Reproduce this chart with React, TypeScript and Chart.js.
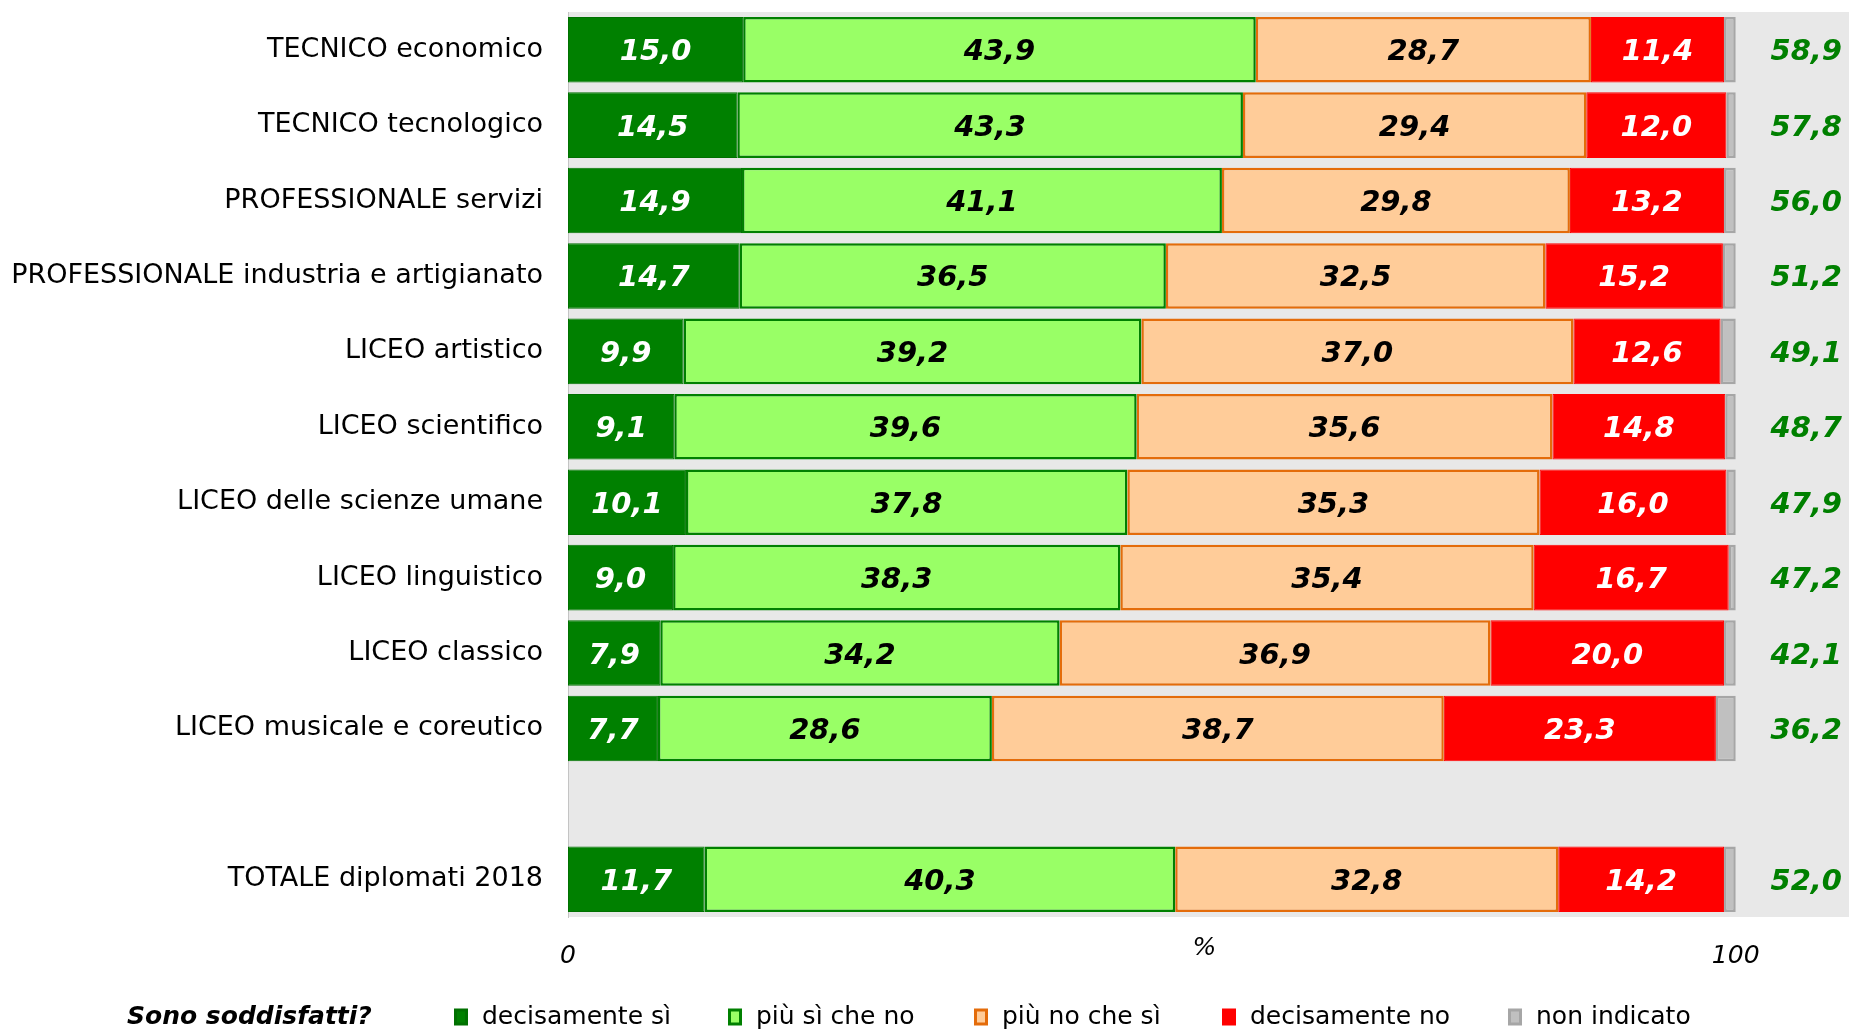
import { useEffect, useRef } from 'react';
import { Chart, registerables } from 'chart.js';

Chart.register(...registerables);

const categories = [
  'TECNICO economico',
  'TECNICO tecnologico',
  'PROFESSIONALE servizi',
  'PROFESSIONALE industria e artigianato',
  'LICEO artistico',
  'LICEO scientifico',
  'LICEO delle scienze umane',
  'LICEO linguistico',
  'LICEO classico',
  'LICEO musicale e coreutico',
  '',
  'TOTALE diplomati 2018',
];
const decisamenteSi = [15.0, 14.5, 14.9, 14.7, 9.9, 9.1, 10.1, 9.0, 7.9, 7.7, null, 11.7];
const piuSiCheNo = [43.9, 43.3, 41.1, 36.5, 39.2, 39.6, 37.8, 38.3, 34.2, 28.6, null, 40.3];
const piuNoCheSi = [28.7, 29.4, 29.8, 32.5, 37.0, 35.6, 35.3, 35.4, 36.9, 38.7, null, 32.8];
const decisamenteNo = [11.4, 12.0, 13.2, 15.2, 12.6, 14.8, 16.0, 16.7, 20.0, 23.3, null, 14.2];
const nonIndicato = [1.0, 0.8, 1.0, 1.1, 1.3, 0.9, 0.8, 0.6, 1.0, 1.7, null, 1.0];
const soddisfatti = [58.9, 57.8, 56.0, 51.2, 49.1, 48.7, 47.9, 47.2, 42.1, 36.2, null, 52.0];
const xTicks = [0, 100];
const seriesNames = ['decisamente sì', 'più sì che no', 'più no che sì', 'decisamente no', 'non indicato'];
const legendTitle = 'Sono soddisfatti?';
const axisUnit = '%';

const FONT = '"DejaVu Sans", Verdana, sans-serif';
const fmt = (v: number) => v.toFixed(1).replace('.', ',');

const labelColors = ['#ffffff', '#000000', '#000000', '#ffffff'];

export default function App() {
  const ref = useRef<HTMLCanvasElement | null>(null);

  useEffect(() => {
    if (!ref.current) return;

    const bgPlugin = {
      id: 'bg',
      beforeDraw(chart: any) {
        const { ctx, chartArea } = chart;
        ctx.save();
        ctx.fillStyle = '#e8e8e8';
        ctx.fillRect(chartArea.left, chartArea.top, chartArea.right - chartArea.left, chartArea.bottom - chartArea.top);
        ctx.restore();
      },
    };

    const labelPlugin = {
      id: 'labels',
      afterDatasetsDraw(chart: any) {
        const { ctx, chartArea } = chart;
        ctx.save();
        ctx.textBaseline = 'middle';
        ctx.font = `italic bold 29px ${FONT}`;
        for (let d = 0; d < 4; d++) {
          const meta = chart.getDatasetMeta(d);
          const data = chart.data.datasets[d].data;
          meta.data.forEach((el: any, i: number) => {
            const v = data[i];
            if (v == null) return;
            ctx.fillStyle = labelColors[d];
            ctx.textAlign = 'center';
            ctx.fillText(fmt(v), (el.x + el.base) / 2, el.y + 3);
          });
        }
        const meta0 = chart.getDatasetMeta(0);
        meta0.data.forEach((el: any, i: number) => {
          const v = soddisfatti[i];
          if (v == null) return;
          ctx.fillStyle = '#008000';
          ctx.textAlign = 'right';
          ctx.fillText(fmt(v), chartArea.right - 7, el.y + 3);
        });
        // axis unit
        const xs = chart.scales.x;
        ctx.fillStyle = '#000000';
        ctx.textAlign = 'center';
        ctx.font = `italic 25px ${FONT}`;
        ctx.fillText(axisUnit, xs.getPixelForValue(54.5), chartArea.bottom + 31);
        ctx.restore();
      },
    };

    const legendPlugin = {
      id: 'customLegend',
      afterDraw(chart: any) {
        const { ctx } = chart;
        const y = 1017;
        ctx.save();
        ctx.textBaseline = 'middle';
        ctx.textAlign = 'left';
        ctx.fillStyle = '#000000';
        ctx.font = `italic bold 25px ${FONT}`;
        ctx.fillText(legendTitle, 127, y);
        ctx.font = `25px ${FONT}`;
        const boxX = [454, 728, 974, 1222, 1508];
        chart.data.datasets.forEach((ds: any, i: number) => {
          const bx = boxX[i];
          const bw = 14;
          const bh = 17;
          ctx.fillStyle = ds.borderColor;
          ctx.fillRect(bx, y - bh / 2, bw, bh);
          ctx.fillStyle = ds.backgroundColor;
          ctx.fillRect(bx + 3, y - bh / 2 + 3, bw - 6, bh - 6);
          ctx.fillStyle = '#000000';
          ctx.fillText(ds.label, bx + 28, y);
        });
        ctx.restore();
      },
    };

    const mk = (label: string, data: any[], bg: string, border: string, bw: number) => ({
      label,
      data,
      backgroundColor: bg,
      borderColor: border,
      borderWidth: bw,
      borderSkipped: false,
      barPercentage: 0.87,
      categoryPercentage: 1,
    });

    const chart = new Chart(ref.current, {
      type: 'bar',
      data: {
        labels: categories,
        datasets: [
          mk(seriesNames[0], decisamenteSi, '#008000', '#007000', 1),
          mk(seriesNames[1], piuSiCheNo, '#99ff66', '#008000', 2.5),
          mk(seriesNames[2], piuNoCheSi, '#ffcc99', '#e46c0a', 2.5),
          mk(seriesNames[3], decisamenteNo, '#ff0000', '#ff0000', 1),
          mk(seriesNames[4], nonIndicato, '#c0c0c0', '#a6a6a6', 2.5),
        ] as any,
      },
      options: {
        indexAxis: 'y',
        animation: false,
        responsive: true,
        maintainAspectRatio: false,
        layout: { padding: { top: 12, right: 0, bottom: 0, left: 0 } },
        plugins: {
          legend: { display: false },
          tooltip: { enabled: false },
          title: { display: false },
        },
        scales: {
          x: {
            stacked: true,
            min: 0,
            max: 109.7,
            grid: { display: false, drawTicks: false },
            border: { display: false },
            afterBuildTicks: (scale: any) => {
              scale.ticks = xTicks.map((v) => ({ value: v }));
            },
            afterFit: (scale: any) => {
              scale.height = 113;
              scale.paddingLeft = 0;
              scale.paddingRight = 0;
            },
            ticks: {
              color: '#000000',
              padding: 24,
              maxRotation: 0,
              autoSkip: false,
              font: { family: FONT, size: 25, style: 'italic' },
              callback: (v: any) => String(v),
            },
          },
          y: {
            stacked: true,
            grid: { display: false, drawTicks: false },
            border: { display: true, color: '#c4c4c4', width: 1 },
            afterFit: (scale: any) => {
              scale.width = 568;
              scale.paddingTop = 0;
              scale.paddingBottom = 0;
            },
            ticks: {
              color: '#000000',
              padding: 25,
              autoSkip: false,
              font: { family: FONT, size: 27 },
            },
          },
        },
      },
      plugins: [bgPlugin, labelPlugin, legendPlugin],
    });

    return () => chart.destroy();
  }, []);

  return (
    <div style={{ position: 'fixed', left: 0, top: 0, width: '1849px', height: '1030px', background: '#ffffff' }}>
      <canvas ref={ref} />
    </div>
  );
}
